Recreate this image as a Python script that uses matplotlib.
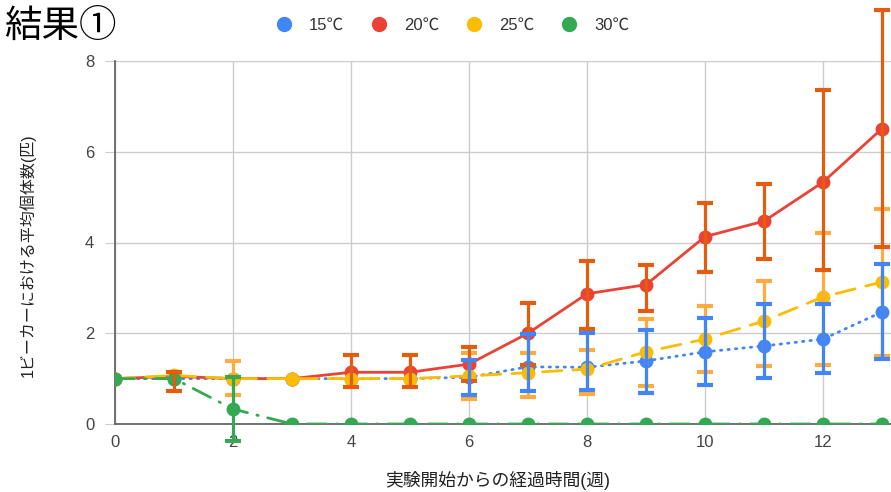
import matplotlib.pyplot as plt
from matplotlib.lines import Line2D

plt.rcParams['font.family'] = ['Liberation Sans', 'Noto Sans CJK JP', 'DejaVu Sans']

weeks = list(range(14))
labels = ['15℃', '20℃', '25℃', '30℃']
colors = ['#4285f4', '#ea4335', '#fbbc04', '#34a853']
bar_colors = ['#4285f4', '#e65c0f', '#ffab40', '#34a853']

# mean number of individuals per beaker
t15 = [1, 1, 1, 1, 1, 1, 1.03, 1.26, 1.25, 1.39, 1.59, 1.72, 1.87, 2.47]
t20 = [1, 1.05, 1, 1, 1.14, 1.14, 1.32, 2.0, 2.87, 3.07, 4.13, 4.47, 5.33, 6.51]
t25 = [1, 1.07, 1, 1, 1, 1, 1.06, 1.13, 1.21, 1.59, 1.87, 2.27, 2.8, 3.13]
t30 = [1, 1, 0.33, 0, 0, 0, 0, 0, 0, 0, 0, 0, 0, 0]

# interval bounds (None = no interval)
lo15 = [None]*6 + [0.64, 0.73, 0.76, 0.68, 0.86, 1.01, 1.12, 1.43]
hi15 = [None]*6 + [1.41, 1.98, 2.0, 2.07, 2.33, 2.64, 2.64, 3.52]
lo20 = [None, 0.73, None, None, 0.82, 0.82, 0.95, 1.3, 2.09, 2.49, 3.35, 3.64, 3.4, 3.9]
hi20 = [None, 1.15, None, None, 1.52, 1.52, 1.7, 2.66, 3.59, 3.5, 4.87, 5.3, 7.36, 9.12]
lo25 = [None, None, 0.64, None, None, None, 0.55, 0.6, 0.66, 0.84, 1.15, 1.28, 1.3, 1.5]
hi25 = [None, None, 1.39, None, None, None, 1.56, 1.56, 1.64, 2.31, 2.6, 3.15, 4.22, 4.74]
lo30 = [None, None, -0.37] + [None]*11
hi30 = [None, None, 1.03] + [None]*11

series = [t15, t20, t25, t30]
styles = [(0, (0.5, 2.2)), '-', (0, (7, 4)), (0, (7, 3.5, 0.5, 3.5))]

fig = plt.figure(figsize=(8.91, 4.92), dpi=100)
ax = fig.add_axes([115/891, 68/492, 776/891, 363/492])

for vals, c, ls, lab in zip(series, colors, styles, labels):
    ax.plot(weeks, vals, color=c, lw=2, ls=ls, dash_capstyle='round',
            marker='o', ms=9, mec=c, mfc=c, label=lab, zorder=3)

for vals, lo, hi, bc in zip([t25, t20, t15, t30], [lo25, lo20, lo15, lo30],
                            [hi25, hi20, hi15, hi30],
                            [bar_colors[2], bar_colors[1], bar_colors[0], bar_colors[3]]):
    xs = [w for w, l in zip(weeks, lo) if l is not None]
    ys = [v for v, l in zip(vals, lo) if l is not None]
    down = [v - l for v, l in zip(vals, lo) if l is not None]
    up = [h - v for v, h in zip(vals, hi) if h is not None]
    eb = ax.errorbar(xs, ys, yerr=[down, up], fmt='none', ecolor=bc,
                     elinewidth=2.3, capsize=6, capthick=3, zorder=4)
    for art in eb.lines[1] + eb.lines[2]:
        art.set_clip_on(False)

ax.set_xlim(0, 776/59)
ax.set_ylim(0, 8)
ax.set_xticks([0, 2, 4, 6, 8, 10, 12])
ax.set_yticks([0, 2, 4, 6, 8])
ax.grid(True, color='#cccccc', lw=1)
ax.set_axisbelow(True)
for s in ['top', 'right']:
    ax.spines[s].set_visible(False)
for s in ['left', 'bottom']:
    ax.spines[s].set_color('#666666')
    ax.spines[s].set_linewidth(1.3)
ax.tick_params(axis='y', length=7, color='#cccccc', pad=8, labelsize=12, labelcolor='#444444')
ax.tick_params(axis='x', length=0, pad=8, labelsize=12, labelcolor='#444444')
ax.yaxis.get_major_ticks()[0].tick1line.set_color('#666666')

fig.text(0.005, 0.985, '結果①', fontsize=27, va='top', ha='left',
         family=['Noto Sans CJK JP'])
fig.text(0.031, 0.482, '1ビーカーにおける平均個体数(匹)', rotation=90,
         va='center', ha='center', fontsize=11.5, color='#222222')
fig.text(0.559, 0.004, '実験開始からの経過時間(週)', va='bottom', ha='center',
         fontsize=12.8, color='#222222')

handles = [Line2D([], [], ls='none', marker='o', ms=10, mfc=c, mec=c) for c in colors]
fig.legend(handles, labels, loc='center', bbox_to_anchor=(0.503, 0.948), ncol=4,
           frameon=False, fontsize=12, handletextpad=0.5, columnspacing=1.1,
           labelcolor='#333333')

fig.savefig('out.png', dpi=100)
